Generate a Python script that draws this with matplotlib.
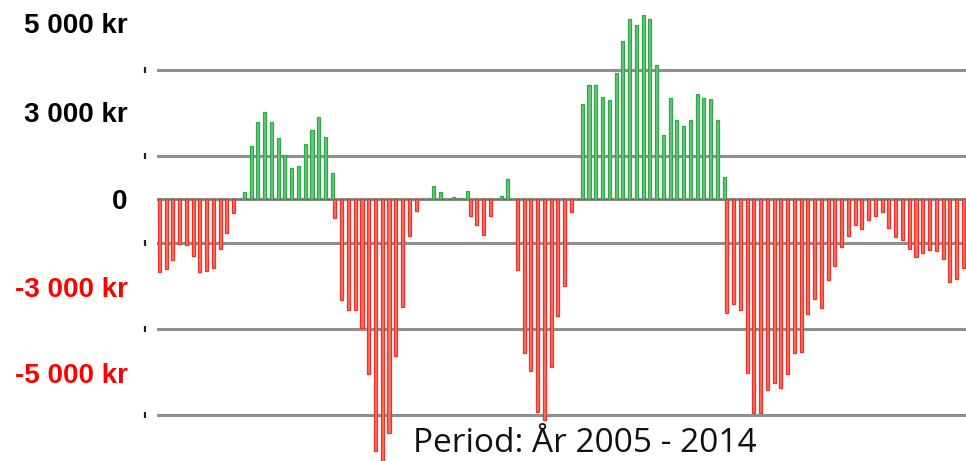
#!/usr/bin/env python3

import matplotlib.pyplot as plt
import matplotlib.transforms as mtransforms

# monthly result, 2005-2014 (120 months), kr
gains = [
    0, 0, 0, 0, 0, 0, 0, 0, 0, 0, 0, 0,
    0, 180, 1250, 1795, 2030, 1810, 1425, 1035, 725, 785, 1285, 1625,
    1905, 1455, 615, 0, 0, 0, 0, 0, 0, 0, 0, 0,
    0, 0, 0, 0, 0, 307, 167, 0, 50, 40, 205, 0,
    0, 0, 0, 90, 475, 0, 0, 0, 0, 0, 0, 0,
    0, 0, 0, 2220, 2665, 2665, 2370, 2315, 2940, 3670, 4180, 4060,
    4290, 4180, 3115, 1500, 2355, 1855, 1700, 1835, 2440, 2355, 2340, 1855,
    515, 0, 0, 0, 0, 0, 0, 0, 0, 0, 0, 0,
    0, 0, 0, 0, 0, 0, 0, 0, 0, 0, 0, 0,
    0, 0, 0, 0, 0, 0, 0, 0, 0, 0, 0, 0,
]
losses = [
    -1680, -1615, -1400, -1035, -1050, -1320, -1680, -1655, -1590, -1150, -780, -315,
    0, 0, 0, 0, 0, 0, 0, 0, 0, 0, 0, 0,
    0, 0, -440, -2340, -2570, -2560, -2975, -4050, -5840, -6300, -5430, -3625,
    -2485, -840, -270, 0, 0, 0, 0, 0, 0, 0, -390, -595,
    -815, -385, 0, 0, 0, -1630, -3565, -3980, -4945, -5115, -3895, -2695,
    -2020, -300, 0, 0, 0, 0, 0, 0, 0, 0, 0, 0,
    0, 0, 0, 0, 0, 0, 0, 0, 0, 0, 0, 0,
    -2625, -2420, -2565, -4035, -4950, -4950, -4425, -4270, -4370, -4060, -3555, -3540,
    -2665, -2315, -2530, -1870, -1555, -1110, -840, -600, -685, -480, -375, -290,
    -670, -870, -930, -1160, -1345, -1240, -1170, -1190, -1385, -1925, -1840, -1595,
]

grid_levels = [3000, 1000, -1000, -3000, -5000]
label_text = ['5 000 kr', '3 000 kr', '0', '-3 000 kr', '-5 000 kr']
period = 'Period: År 2005 - 2014'


def plot(output):
    fig = plt.figure(figsize=(9.66, 4.61), dpi=100)
    ax = fig.add_axes([157 / 966, 0, 809 / 966, 1])

    months = range(len(gains))
    for y in grid_levels + [0]:
        ax.axhline(y, color='#8f8f8f', lw=2.2, zorder=1)

    ax.bar([m - 0.4 for m in months], gains, width=0.45,
           color='#6cc47e', edgecolor='#2ea848', linewidth=0.9, zorder=2)
    ax.bar(list(months), losses, width=0.45,
           color='#f8715f', edgecolor='#f0302a', linewidth=0.9, zorder=2)

    ax.set_xlim(-0.34, 119.4)
    ax.set_ylim(-6072, 4632)

    for s in ax.spines.values():
        s.set_visible(False)
    ax.set_xticks([])
    # the labels sit between the gridlines in the original
    ax.set_yticks([4090, 2040, 0, -2025, -4035])
    ax.set_yticklabels(label_text, fontsize=20, fontweight='bold',
                       family='Liberation Sans')
    ax.tick_params(axis='y', length=0, pad=21)
    for lbl in ax.get_yticklabels():
        lbl.set_color('#ff0000' if lbl.get_text().startswith('-') else '#000000')

    # little marks left of each gridline
    trans = mtransforms.blended_transform_factory(ax.transAxes, ax.transData)
    ax.plot([-0.0145] * len(grid_levels), grid_levels, ls='none', marker='|',
            ms=4, mew=1.6, color='#222222', transform=trans, clip_on=False)

    fig.text(585 / 966, 9 / 461, period, ha='center', va='baseline',
             fontsize=24, family='Open Sans', color='#111111', zorder=5)

    fig.savefig(output, dpi=100)


if __name__ == "__main__":
    plot('out.png')
